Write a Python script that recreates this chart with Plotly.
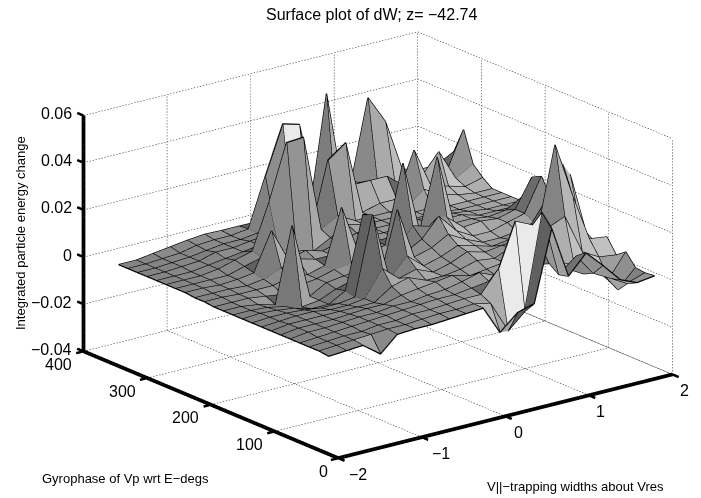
import numpy as np
import plotly.graph_objects as go

x_grid = [-2.00,-1.79,-1.59,-1.38,-1.18,-0.97,-0.77,-0.56,-0.36,-0.15,0.05,0.26,0.46,0.67,0.87,1.08,1.28,1.49,1.69,1.90]
y_grid = [15,30,45,60,75,90,105,120,135,150,165,180,195,210,225,240,255,270,285,300,315,330,345]
# dW values x 1000, one row per gyrophase
dw_milli = [
[1.5,2,2.5,-3,3.5,4,4,4.5,5,5.5,-6.6,0,2,32,10,18,11,3,0,1],
[2,2.5,3,3.5,4,4,4.5,5,5,5.5,4,-9.5,-3,37,9,15,6,2,-2,0.5],
[2,2.5,3,3,4,4,5,5,5.5,6,6,15,33.5,30,12,8,4,3,-6.4,1],
[2,2.5,3,3.5,4,4.5,5,5.5,6,6,7,8,6,14,10,9,6,4,-4,6],
[2,3,3,3.5,4,4,5,5,6,6.5,8,10,7,8,14,22,25,8,4,3],
[2,3,3,3,3.5,4,4,6,7,8,9,7,8,9,12,20,53.6,30,10,9],
[2,3,3,3,3,3,3,8,10,7,7,8,10,9,12,18,28,41.6,14,4],
[2,2.5,3,3,2,2,3,14,8,10,7,9,12,10,11,12,16,24,34,5],
[2,2.5,2.5,2,1,1,2,35,6,14,8,10,13,11,9,10,12,14,18,6],
[2,2.5,2,1,-1,-1,3,33.6,4,32,10,12,16,12,9,9,10,12,20,7],
[2,2,1.5,0,-2,-1,2,4,4,6,10,14,22,14,10,10,12,14,28,8],
[2,2,1,-1,31,-1,3,4,5,6,8,18,16,18,12,12.7,12,14,26,9],
[2,2,2,1,0,2,3,5,6,8,10,43,12,42,12,12,11,12,16,9],
[2.5,2.5,2,2,2,4,3,5,28,6,10,10,10,12,12,12,10,10,10,9],
[2.5,2.5,2.5,2,3,6,8,6,6,8,10,10,10,12,11,11,10,9,9,9],
[3,3,2.5,3,4,20,6,8,6,8,10,10,10,10,10,10,9,9,9,9],
[3,3,3,3,5,7,9,6,4,8,12,10,10,10,10,10,9,9,9,9],
[3,3,3,4,6,8,27,50.5,51,10,14,10,10,10,10,16,12,10,9,9],
[3,3,3,4,5,6,7,9,10,8,36,41.5,10,12,12,31,14,12,10,12],
[3,3,3.5,4,6,6,7,8,8,10,10,12,20,20,20,14,16,25,12,16],
[3,3,3.5,4,5,6,6,7,8,9,9,58.9,16,17.5,15,13,14,14,12,29],
[3,3,3.5,4,5.5,6,6,7,27.5,48,46,10,14,16,50,38,16,14,14,18],
[3,3,4,5,6,6.7,6.5,6.5,6.4,8,10,12,14,16,18,16,12,10,8,10],
]
# quads that catch the highlight (row, column)
white_quads = [(20, 9), (1, 11), (1, 12)]
x_ticks = [-2,-1,0,1,2]
y_ticks = [0,100,200,300,400]
z_ticks = [-0.04,-0.02,0,0.02,0.04,0.06]
x_labels = ["−2","−1","0","1","2"]
y_labels = ["0","100","200","300","400"]
z_labels = ["−0.04","−0.02","0","0.02","0.04","0.06"]
title_text = "Surface plot of dW; z= −42.74"
z_title = "Integrated particle energy change"
y_title = "Gyrophase of Vp wrt E−degs"
x_title = "V||−trapping widths about Vres"

X0, X1 = x_ticks[0], x_ticks[-1]
Y0, Y1 = y_ticks[0], y_ticks[-1]
Z0, Z1 = z_ticks[0], z_ticks[-1]
K = 1.724
aspect = dict(x=1.0 * K, y=0.986 * K, z=0.59 * K)
PAD = 0.05  # room for the outward ticks inside the clipped scene
font = "Liberation Sans"

xg = np.array(x_grid); yg = np.array(y_grid); zg = np.array(dw_milli) / 1000.0
ny, nx = zg.shape
XX, YY = np.meshgrid(xg, yg)

# flat quad shading
light = np.array([0.45, -0.6, 0.66]); light /= np.linalg.norm(light)
flat = light[2]
def to_box(a, b, c):
    return np.array([a / (X1 - X0) * aspect["x"], b / (Y1 - Y0) * aspect["y"], c / (Z1 - Z0) * aspect["z"]])
tri_i, tri_j, tri_k, colors = [], [], [], []
for r in range(ny - 1):
    for c in range(nx - 1):
        a = r * nx + c; b = a + 1; d = a + nx; e = d + 1
        u = to_box(xg[c + 1] - xg[c], yg[r + 1] - yg[r], zg[r + 1, c + 1] - zg[r, c])
        v = to_box(xg[c] - xg[c + 1], yg[r + 1] - yg[r], zg[r + 1, c] - zg[r, c + 1])
        n = np.cross(u, v); n /= np.linalg.norm(n)
        if n[2] < 0: n = -n
        dd = float(np.dot(n, light)) - flat
        s = 0.59 + (0.4 * dd if dd > 0 else 0.3 * dd) + 0.035 * xg[c]
        if (r, c) in white_quads:
            s = 0.92
        g = int(np.clip(s, 0.38, 0.93) * 255)
        col = f"rgb({g},{g},{g})"
        tri_i += [a, a]; tri_j += [b, e]; tri_k += [e, d]; colors += [col, col]

fig = go.Figure()
fig.add_trace(go.Mesh3d(x=XX.ravel(), y=YY.ravel(), z=zg.ravel(), i=tri_i, j=tri_j, k=tri_k,
                        facecolor=colors, flatshading=True,
                        lighting=dict(ambient=1, diffuse=0, specular=0, fresnel=0),
                        hoverinfo="skip", showscale=False))

def polyline(pts):
    xs, ys, zs = [], [], []
    for seg in pts:
        for p in seg:
            xs.append(p[0]); ys.append(p[1]); zs.append(p[2])
        xs.append(None); ys.append(None); zs.append(None)
    return xs, ys, zs

# wire
segs = [[(xg[c], yg[r], zg[r, c]) for c in range(nx)] for r in range(ny)]
segs += [[(xg[c], yg[r], zg[r, c]) for r in range(ny)] for c in range(nx)]
wx, wy, wz = polyline(segs)
fig.add_trace(go.Scatter3d(x=wx, y=wy, z=wz, mode="lines", line=dict(color="#000000", width=2.5), hoverinfo="skip"))

# dotted grid on back walls and floor
def dotted(p, q, count):
    p = np.array(p, float); q = np.array(q, float)
    out = []
    for k in range(count):
        a = p + (q - p) * k / count
        b = p + (q - p) * (k + 0.45) / count
        out.append([tuple(a), tuple(b)])
    return out
grid = []
nX, nY, nZ = 112, 92, 79
for t in x_ticks:
    grid += dotted((t, Y0, Z0), (t, Y1, Z0), nY)
    grid += dotted((t, Y1, Z0), (t, Y1, Z1), nZ)
for t in y_ticks:
    grid += dotted((X0, t, Z0), (X1, t, Z0), nX)
    grid += dotted((X1, t, Z0), (X1, t, Z1), nZ)
for t in z_ticks:
    grid += dotted((X0, Y1, t), (X1, Y1, t), nX)
    grid += dotted((X1, Y1, t), (X1, Y0, t), nY)
gx, gy, gz = polyline(grid)
fig.add_trace(go.Scatter3d(x=gx, y=gy, z=gz, mode="lines", line=dict(color="#333333", width=1.2), hoverinfo="skip"))

# heavy axes and outward ticks
axes = [[(X0, Y0, Z0), (X1, Y0, Z0)], [(X0, Y0, Z0), (X0, Y1, Z0)], [(X0, Y1, Z0), (X0, Y1, Z1)]]
ax_x, ax_y, ax_z = polyline(axes)
fig.add_trace(go.Scatter3d(x=ax_x, y=ax_y, z=ax_z, mode="lines", line=dict(color="black", width=7.5), hoverinfo="skip"))
tl_x, tl_y = (X1 - X0) * 0.022, (Y1 - Y0) * 0.028
ticks = [[(t, Y0, Z0), (t, Y0 - tl_y, Z0)] for t in x_ticks]
ticks += [[(X0, t, Z0), (X0 - tl_x, t, Z0)] for t in y_ticks]
ticks += [[(X0, Y1, t), (X0, Y1 + tl_y, t)] for t in z_ticks]
tx, ty, tz = polyline(ticks)
fig.add_trace(go.Scatter3d(x=tx, y=ty, z=tz, mode="lines", line=dict(color="black", width=5), hoverinfo="skip"))

ann = []
tick_font = dict(size=16, color="black", family=font)
x_shift_px = [20, 19, 13, 12, 12]
for t, l in zip(z_ticks, z_labels):
    ann.append(dict(x=X0, y=Y1, z=t, text=l, showarrow=False, xanchor="right", xshift=-10, yshift=2, font=tick_font))
for t, l in zip(y_ticks, y_labels):
    ann.append(dict(x=X0, y=t, z=Z0, text=l, showarrow=False, xshift=-25 if t else -15, yshift=-13, font=tick_font))
for t, l, sh in zip(x_ticks, x_labels, x_shift_px):
    ann.append(dict(x=t, y=Y0, z=Z0, text=l, showarrow=False, xshift=sh, yshift=-16, font=tick_font))

small = dict(size=13, family=font, color="black")
paper_ann = [
    dict(text=title_text, x=371/701, y=1-14/498, font=dict(size=16, family=font, color="black")),
    dict(text=z_title, x=20/701, y=1-233/498, textangle=-90, font=small),
    dict(text=y_title, x=125/701, y=1-478/498, font=small),
    dict(text=x_title, x=575/701, y=1-486/498, font=small),
]
for a in paper_ann:
    a.update(xref="paper", yref="paper", showarrow=False, xanchor="center", yanchor="middle")
R = 2.0
hidden = dict(visible=False, showgrid=False, zeroline=False, showticklabels=False, showbackground=False)
dX, dY, dZ = (X1 - X0) * PAD / 2, (Y1 - Y0) * PAD / 2, (Z1 - Z0) * PAD / 2
fig.update_layout(
    width=701, height=498, margin=dict(l=0, r=0, t=0, b=0), showlegend=False,
    paper_bgcolor="white", annotations=paper_ann,
    scene=dict(
        domain=dict(x=[0.0785, 1.0], y=[0.016, 1.0]),
        xaxis=dict(range=[X0 - dX, X1 + dX], **hidden), yaxis=dict(range=[Y0 - dY, Y1 + dY], **hidden), zaxis=dict(range=[Z0 - dZ, Z1 + dZ], **hidden),
        aspectmode="manual", aspectratio=dict(x=aspect["x"] * (1 + PAD), y=aspect["y"] * (1 + PAD), z=aspect["z"] * (1 + PAD)),
        camera=dict(projection=dict(type="orthographic"), up=dict(x=0, y=0, z=1), center=dict(x=0, y=0, z=0),
                    eye=dict(x=-0.5786 * R, y=-0.7485 * R, z=0.3243 * R)),
        annotations=ann,
    ),
)
fig.write_html("out.html", post_script="document.body.style.margin='0';", config=dict(displayModeBar=False))
